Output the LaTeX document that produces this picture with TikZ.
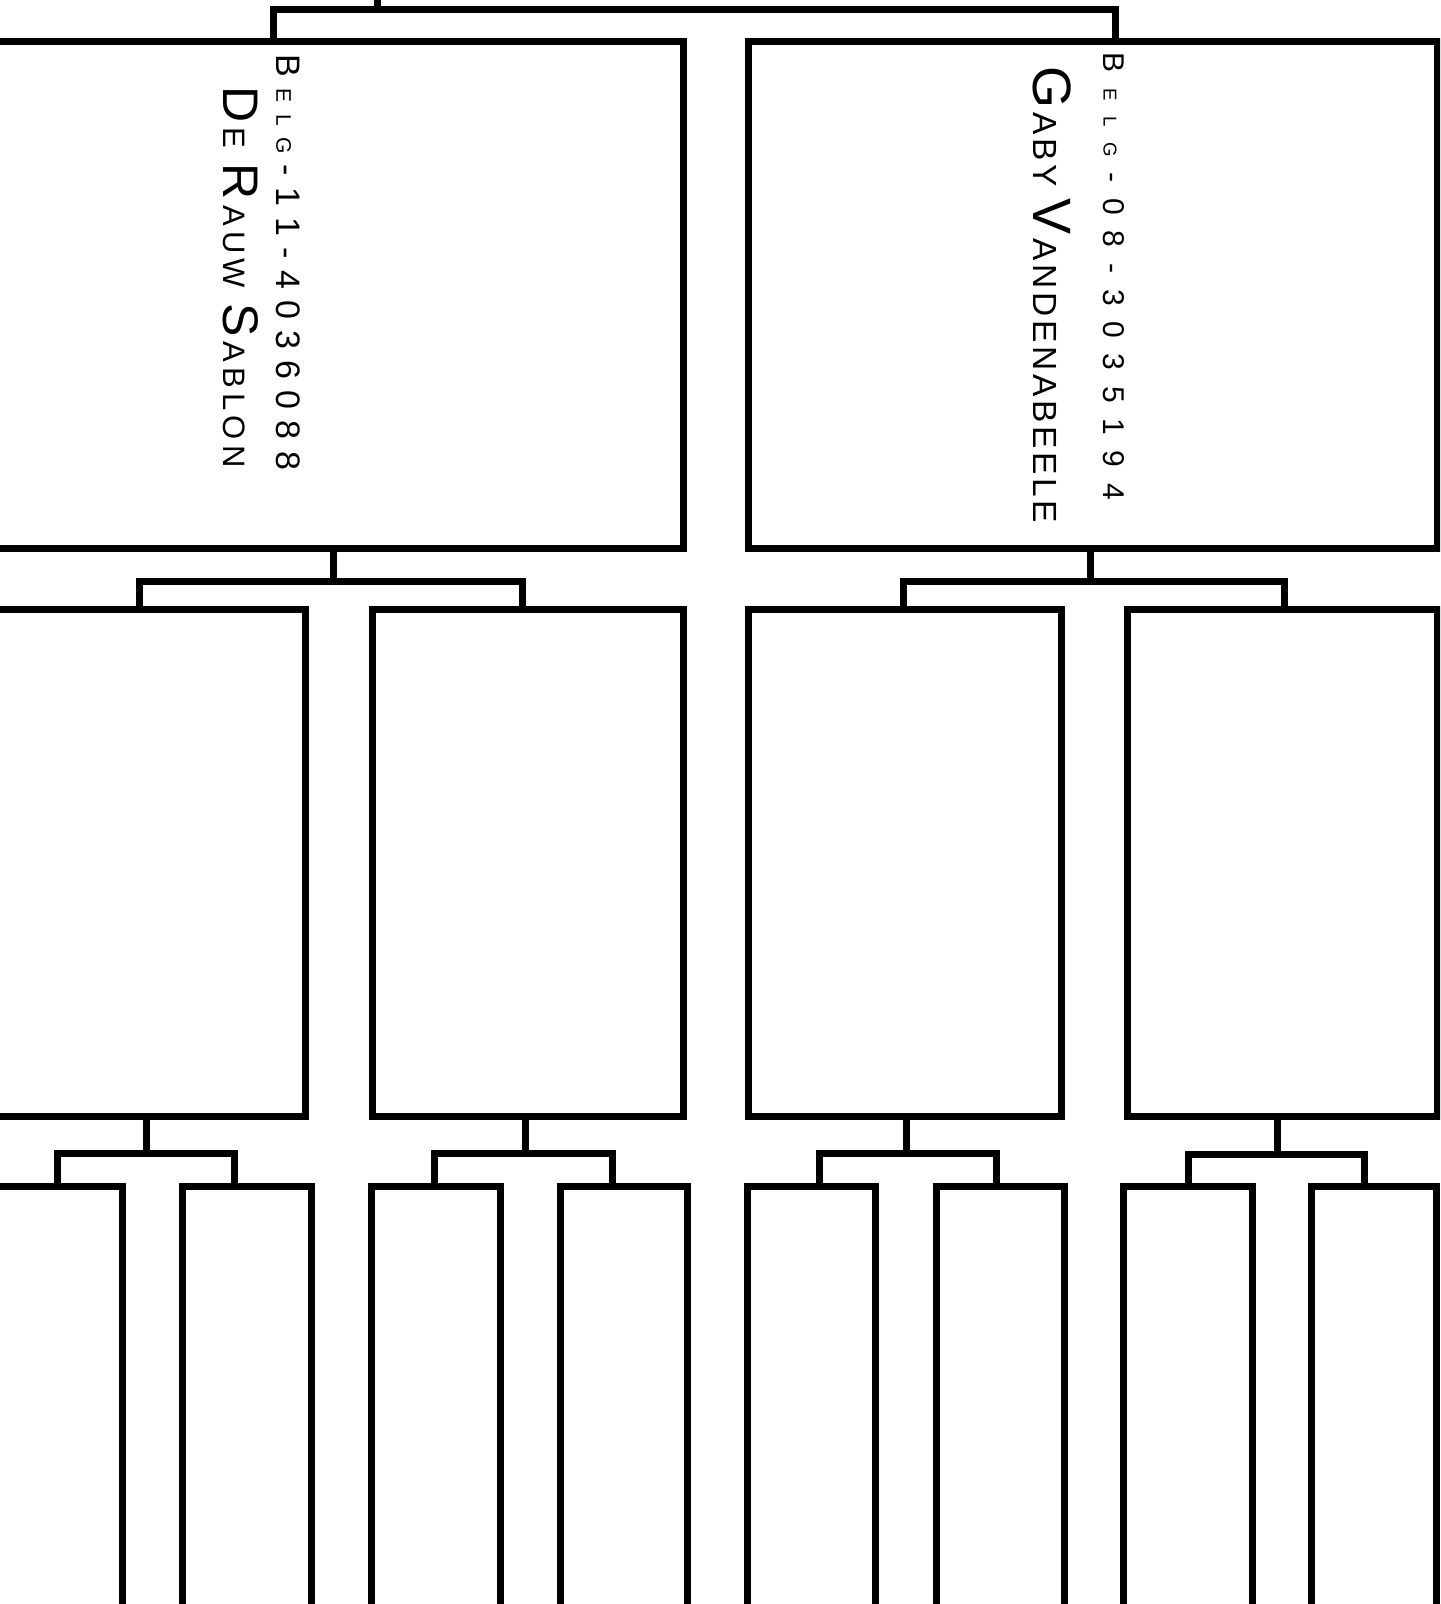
\documentclass[tikz,border=0pt]{standalone}
\usepackage{graphicx}
\usepackage{fontspec}
\newfontfamily\hand{Liberation Sans}
\newcommand\hs[1]{\scalebox{0.62}{#1}}
\newcommand\spreadto[2]{\makebox[#1][s]{#2}}
\begin{document}
\begin{tikzpicture}[x=0.5pt,y=-0.5pt,
  pb/.style={draw=black, line width=3.5pt, fill=none, inner sep=0pt, outer sep=0pt, line join=miter},
  link/.style={draw=black, line width=3.5pt, line join=miter},
  hw/.style={rotate=-90, inner sep=0pt, text=black, font=\hand}]
\useasboundingbox (0,0) rectangle (1440,1604);
\clip (0,0) rectangle (1440,1604);
\fill[white] (0,0) rectangle (1440,1604);
% level 1
\node[pb, minimum width=346.5pt, minimum height=253pt] (L) at (336.5,295) {};
\node[pb, minimum width=344.5pt, minimum height=253pt] (R) at (1092.5,295) {};
% level 2
\node[pb, minimum width=157.5pt, minimum height=253.25pt] (A) at (147.5,862.75) {};
\node[pb, minimum width=155.5pt, minimum height=253.25pt] (B) at (527.5,862.75) {};
\node[pb, minimum width=156.5pt, minimum height=253.25pt] (C) at (904.5,862.75) {};
\node[pb, minimum width=155pt, minimum height=253.25pt] (D) at (1282,862.75) {};
% level 3
\node[pb, minimum width=66pt, minimum height=226.5pt] (A1) at (56,1413) {};
\node[pb, minimum width=64.5pt, minimum height=226.5pt] (A2) at (246.5,1413) {};
\node[pb, minimum width=64.5pt, minimum height=226.5pt] (B1) at (435.5,1413) {};
\node[pb, minimum width=63.5pt, minimum height=226.5pt] (B2) at (623.5,1413) {};
\node[pb, minimum width=64pt, minimum height=226.5pt] (C1) at (811,1413) {};
\node[pb, minimum width=64pt, minimum height=226.5pt] (C2) at (1000,1413) {};
\node[pb, minimum width=64.5pt, minimum height=226.5pt] (D1) at (1187.5,1413) {};
\node[pb, minimum width=62.5pt, minimum height=226.5pt] (D2) at (1373.5,1413) {};
% top connector
\coordinate (up) at (377,-10);
\draw[link] (up) -- (377,9.5);
\draw[link] (273,0 |- L.north) -- (273,9.5) -- (1115,9.5) -- (1115,0 |- R.north);
% level 1 -> 2
\draw[link] (333,0 |- L.south) -- (333,581.5);
\draw[link] (139,0 |- A.north) -- (139,581.5) -- (522,581.5) -- (522,0 |- B.north);
\draw[link] (1090,0 |- R.south) -- (1090,581.5);
\draw[link] (903,0 |- C.north) -- (903,581.5) -- (1284,581.5) -- (1284,0 |- D.north);
% level 2 -> 3
\draw[link] (146,0 |- A.south) -- (146,1153);
\draw[link] (57,0 |- A1.north) -- (57,1153) -- (234,1153) -- (234,0 |- A2.north);
\draw[link] (525,0 |- B.south) -- (525,1153);
\draw[link] (434,0 |- B1.north) -- (434,1153) -- (612,1153) -- (612,0 |- B2.north);
\draw[link] (906,0 |- C.south) -- (906,1153);
\draw[link] (819,0 |- C1.north) -- (819,1153) -- (996,1153) -- (996,0 |- C2.north);
\draw[link] (1277,0 |- D.south) -- (1277,1154);
\draw[link] (1188,0 |- D1.north) -- (1188,1154) -- (1364,1154) -- (1364,0 |- D2.north);
% handwritten texts
\node[hw, font=\hand\fontsize{17}{20}\selectfont] (t1) at (288,262.5)
  {\spreadto{207.5pt}{B\hfil\hs{E}\hfil\hs{L}\hfil\hs{G}\hfil-\hfil1\hfil1\hfil-\hfil4\hfil0\hfil3\hfil6\hfil0\hfil8\hfil8}};
\node[hw, font=\hand\fontsize{25}{30}\selectfont] (t2) at (241,277)
  {\spreadto{190.5pt}{D\hfil\hs{E}\hfil\hfil\hfil R\hfil\hs{A}\hfil\hs{U}\hfil\hs{W}\hfil\hfil\hfil S\hfil\hs{A}\hfil\hs{B}\hfil\hs{L}\hfil\hs{O}\hfil\hs{N}}};
\node[hw, font=\hand\fontsize{15}{18}\selectfont] (t3) at (1114,276.5)
  {\spreadto{223.5pt}{B\hfil\hs{E}\hfil\hs{L}\hfil\hs{G}\hfil-\hfil0\hfil8\hfil-\hfil3\hfil0\hfil3\hfil5\hfil1\hfil9\hfil4}};
\node[hw, font=\hand\fontsize{27}{32}\selectfont] (t4) at (1052,295)
  {\spreadto{228pt}{G\hfil\hs{A}\hfil\hs{B}\hfil\hs{Y}\hfil\hfil\hfil V\hfil\hs{A}\hfil\hs{N}\hfil\hs{D}\hfil\hs{E}\hfil\hs{N}\hfil\hs{A}\hfil\hs{B}\hfil\hs{E}\hfil\hs{E}\hfil\hs{L}\hfil\hs{E}}};
\end{tikzpicture}
\end{document}
